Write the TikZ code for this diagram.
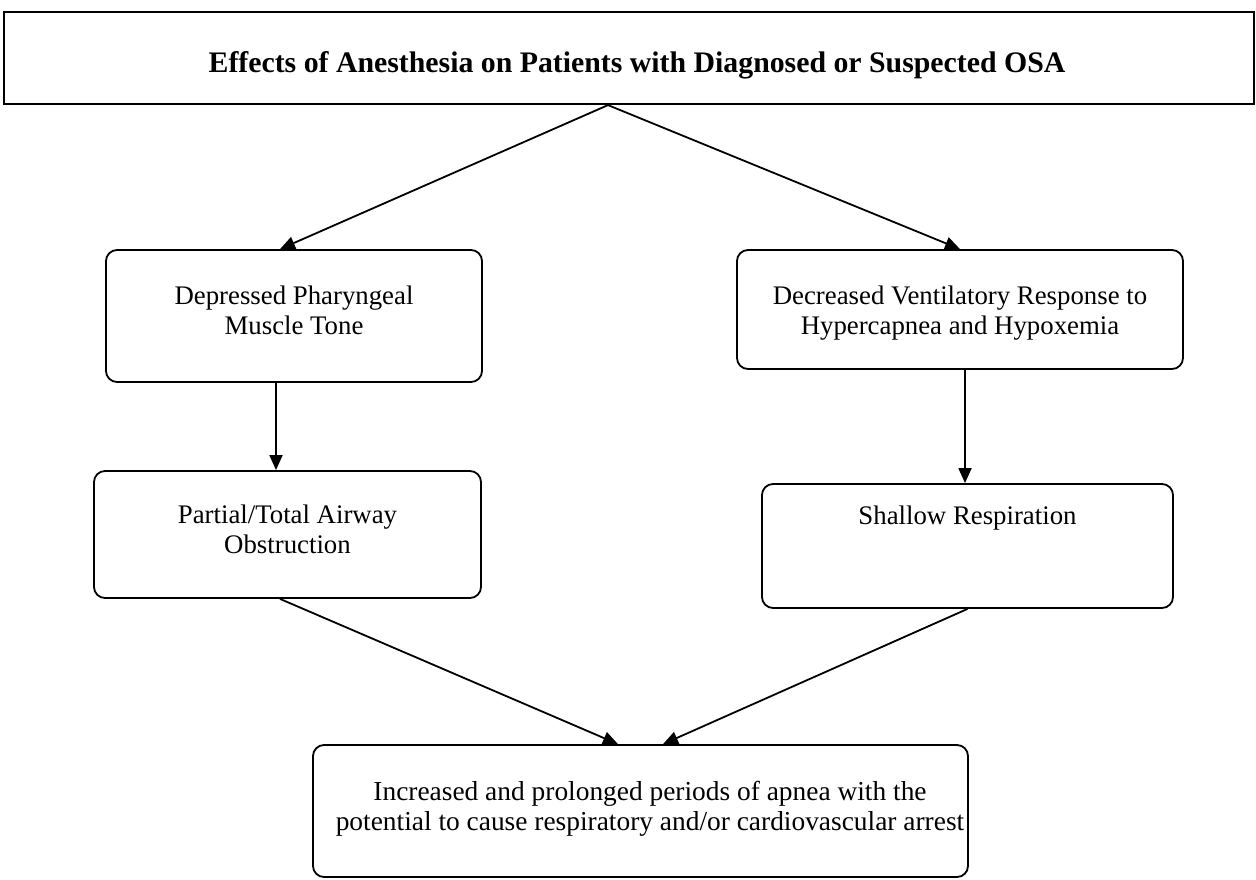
\documentclass[tikz,border=0pt]{standalone}
\usepackage{fontspec}
\setmainfont{Liberation Serif}
\usetikzlibrary{arrows.meta}
\begin{document}
\begin{tikzpicture}[x=1pt,y=-1pt,
  rbox/.style={draw, line width=1.8pt, rounded corners=11pt, inner sep=0pt},
  tbox/.style={draw, line width=2.2pt, inner sep=0pt},
  txt/.style={font=\fontsize{26.8}{29.5}\selectfont, align=center, inner sep=0pt, anchor=north},
  bigtxt/.style={font=\fontsize{27.4}{30}\selectfont, align=center, inner sep=0pt, anchor=north},
  ttl/.style={font=\fontsize{29.8}{32}\selectfont\bfseries, inner sep=0pt, anchor=base},
  arr/.style={line width=1.8pt, -{Triangle[length=15pt,width=13pt]}},
]
\useasboundingbox (0,0) rectangle (1256,879);

\node[tbox, minimum width=1250pt, minimum height=92pt] (top) at (629,58) {};
\node[ttl] (title) at (637,72) {Effects of Anesthesia on Patients with Diagnosed or Suspected OSA};

\node[rbox, minimum width=376pt, minimum height=132pt] (b1) at (294,316) {};
\node[txt] (t1) at (294,286) {Depressed Pharyngeal\\Muscle Tone};

\node[rbox, minimum width=446pt, minimum height=119pt] (b2) at (960,309.5) {};
\node[txt] (t2) at (960,286) {Decreased Ventilatory Response to\\Hypercapnea and Hypoxemia};

\node[rbox, minimum width=387pt, minimum height=127pt] (b3) at (287.5,534.5) {};
\node[txt] (t3) at (287.5,505) {Partial/Total Airway\\Obstruction};

\node[rbox, minimum width=411pt, minimum height=124pt] (b4) at (967.5,546) {};
\node[txt] (t4) at (967.5,506) {Shallow Respiration};

\node[rbox, minimum width=655pt, minimum height=132pt] (b5) at (640.5,811) {};
\node[bigtxt] (t5) at (650,781) {Increased and prolonged periods of apnea with the\\potential to cause respiratory and/or cardiovascular arrest};

\draw[arr] ([xshift=-21pt]top.south) -- ([xshift=-14pt]b1.north);
\draw[arr] ([xshift=-21pt]top.south) -- (b2.north);
\draw[arr] ([xshift=-18pt]b1.south) -- ([xshift=-11.5pt]b3.north);
\draw[arr] ([xshift=5pt]b2.south) -- ([xshift=-2.5pt]b4.north);
\draw[arr] ([xshift=-7.5pt]b3.south) -- ([xshift=-22.5pt]b5.north);
\draw[arr] (b4.south) -- ([xshift=22.5pt]b5.north);
\end{tikzpicture}
\end{document}
